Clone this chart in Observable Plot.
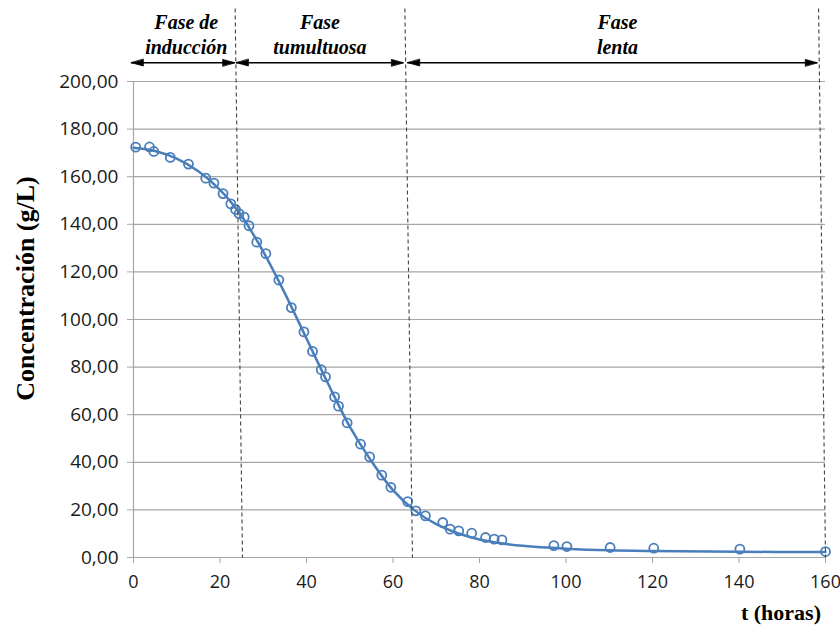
<!DOCTYPE html>
<html><head><meta charset="utf-8">
<script src="https://cdn.jsdelivr.net/npm/d3@7"></script>
<script src="https://cdn.jsdelivr.net/npm/@observablehq/plot@0.6"></script>
<style>body{margin:0;background:#fff}#chart{width:840px;height:628px}</style>
</head><body><div id="chart"></div>
<script>
// observed sugar concentration (g/L) vs time (h)
const obsT = [0.5, 3.7, 4.7, 8.5, 12.7, 16.7, 18.6, 20.7, 22.5, 23.6, 24.4, 25.6, 26.7, 28.5, 30.6, 33.6, 36.5, 39.4, 41.4, 43.4, 44.4, 46.5, 47.4, 49.4, 52.5, 54.6, 57.4, 59.5, 63.4, 65.3, 67.5, 71.5, 73.2, 75.2, 78.2, 81.4, 83.4, 85.2, 97.2, 100.2, 110.2, 120.3, 140.2, 160];
const obsC = [172.4, 172.5, 170.6, 168.1, 165.3, 159.4, 157.3, 152.9, 148.6, 146.2, 144.5, 143.0, 139.4, 132.5, 127.7, 116.6, 105.0, 94.8, 86.6, 78.9, 75.9, 67.5, 63.6, 56.6, 47.6, 42.3, 34.6, 29.5, 23.5, 19.6, 17.5, 14.7, 11.9, 11.2, 10.2, 8.4, 7.7, 7.4, 5.0, 4.6, 4.2, 3.9, 3.5, 2.5];
// fitted curve
const fitT = [0, 5, 10, 15, 20, 25, 30, 35, 40, 45, 50, 55, 60, 65, 70, 75, 80, 85, 90, 100, 110, 120, 140, 160];
const fitC = [172.2, 170.8, 167.6, 162.3, 154.5, 143.5, 128.5, 111.0, 92.0, 73.0, 55.0, 40.5, 28.3, 19.8, 14.0, 10.2, 7.6, 6.0, 4.9, 3.7, 3.0, 2.7, 2.4, 2.3];
const yTicks = [0, 20, 40, 60, 80, 100, 120, 140, 160, 180, 200];
const xTicks = [0, 20, 40, 60, 80, 100, 120, 140, 160];
// phases
const phaseNames = ["Fase de\ninducción", "Fase\ntumultuosa", "Fase\nlenta"];
const phaseMidT = [12.2, 43.1, 111.9];
const phaseStartT = [-0.5, 23.8, 63.4];
const phaseEndT = [23.4, 62.4, 158.1];
const boundaryTopT = [23.5, 62.75, 158.4];
const boundaryBottomT = [25.2, 64.5, 160];
const yLabel = "Concentración (g/L)";
const xLabel = "t (horas)";

const obs = obsT.map((t, i) => ({t, c: obsC[i]}));
const fit = fitT.map((t, i) => ({t, c: fitC[i]}));
const phases = phaseNames.map((name, i) => ({name, mid: phaseMidT[i], s: phaseStartT[i], e: phaseEndT[i]}));
const bounds = boundaryTopT.map((a, i) => ({a, b: boundaryBottomT[i]}));
const heads = phases.flatMap(p => [{t: p.s, rot: -90}, {t: p.e, rot: 90}]);

const ARROW_Y = 207.9, LABEL_Y = 220.0, BOUND_TOP = 230.7;
const blue = "#4a7ebb", grid = "#a6a6a6";
const fmt = d => d.toFixed(2).replace(".", ",");
const tri = {draw(ctx, l) { ctx.moveTo(0, -l); ctx.lineTo(-3.3, 0); ctx.lineTo(3.3, 0); ctx.closePath(); }};

const chart = Plot.plot({
  width: 840, height: 628,
  marginLeft: 133, marginRight: 15, marginTop: 81, marginBottom: 71,
  x: {domain: [0, 160]},
  y: {domain: [0, 200]},
  style: {fontFamily: "'Open Sans', sans-serif", fontSize: "18px", background: "#fff", color: "#222", overflow: "visible"},
  marks: [
    Plot.gridY(yTicks, {stroke: grid, strokeOpacity: 1, strokeWidth: 1.2}),
    Plot.ruleX([0], {stroke: grid, strokeWidth: 1.2}),
    Plot.axisY({ticks: yTicks, tickFormat: fmt, tickSize: 6, tickPadding: 9, stroke: grid, strokeOpacity: 1, fill: "#1a1a1a", fontSize: 19, label: null}),
    Plot.axisX({ticks: xTicks, tickSize: 6, tickPadding: 12, stroke: grid, strokeOpacity: 1, fill: "#1a1a1a", label: null}),
    Plot.line(fit, {x: "t", y: "c", curve: "catmull-rom", stroke: blue, strokeWidth: 2.5}),
    Plot.dot(obs, {x: "t", y: "c", r: 4.5, stroke: blue, strokeWidth: 1.8, fill: "none"}),
    Plot.link(bounds, {x1: "a", x2: "b", y1: BOUND_TOP, y2: 0, stroke: "#444", strokeWidth: 1.1, strokeDasharray: "4,3"}),
    Plot.ruleY(phases, {x1: "s", x2: "e", y: ARROW_Y, stroke: "#000", strokeWidth: 1.5}),
    Plot.vector(heads, {x: "t", y: ARROW_Y, rotate: "rot", length: 12, anchor: "end", shape: tri, fill: "#000", stroke: "#000", strokeWidth: 0.8}),
    Plot.text(phases, {x: "mid", y: LABEL_Y, text: "name", fontFamily: "'Liberation Serif', serif", fontStyle: "italic", fontWeight: "bold", fontSize: 20, lineHeight: 1.25, fill: "#000"}),
    Plot.text([yLabel], {x: -24.9, y: 113, text: d => d, rotate: -90, fontFamily: "'Liberation Serif', serif", fontWeight: "bold", fontSize: 26, fill: "#000"}),
    Plot.text([xLabel], {x: 149.7, y: -23.2, text: d => d, fontFamily: "'Liberation Serif', serif", fontWeight: "bold", fontSize: 22, fill: "#000"})
  ]
});
document.getElementById("chart").appendChild(chart);
</script>
</body></html>
